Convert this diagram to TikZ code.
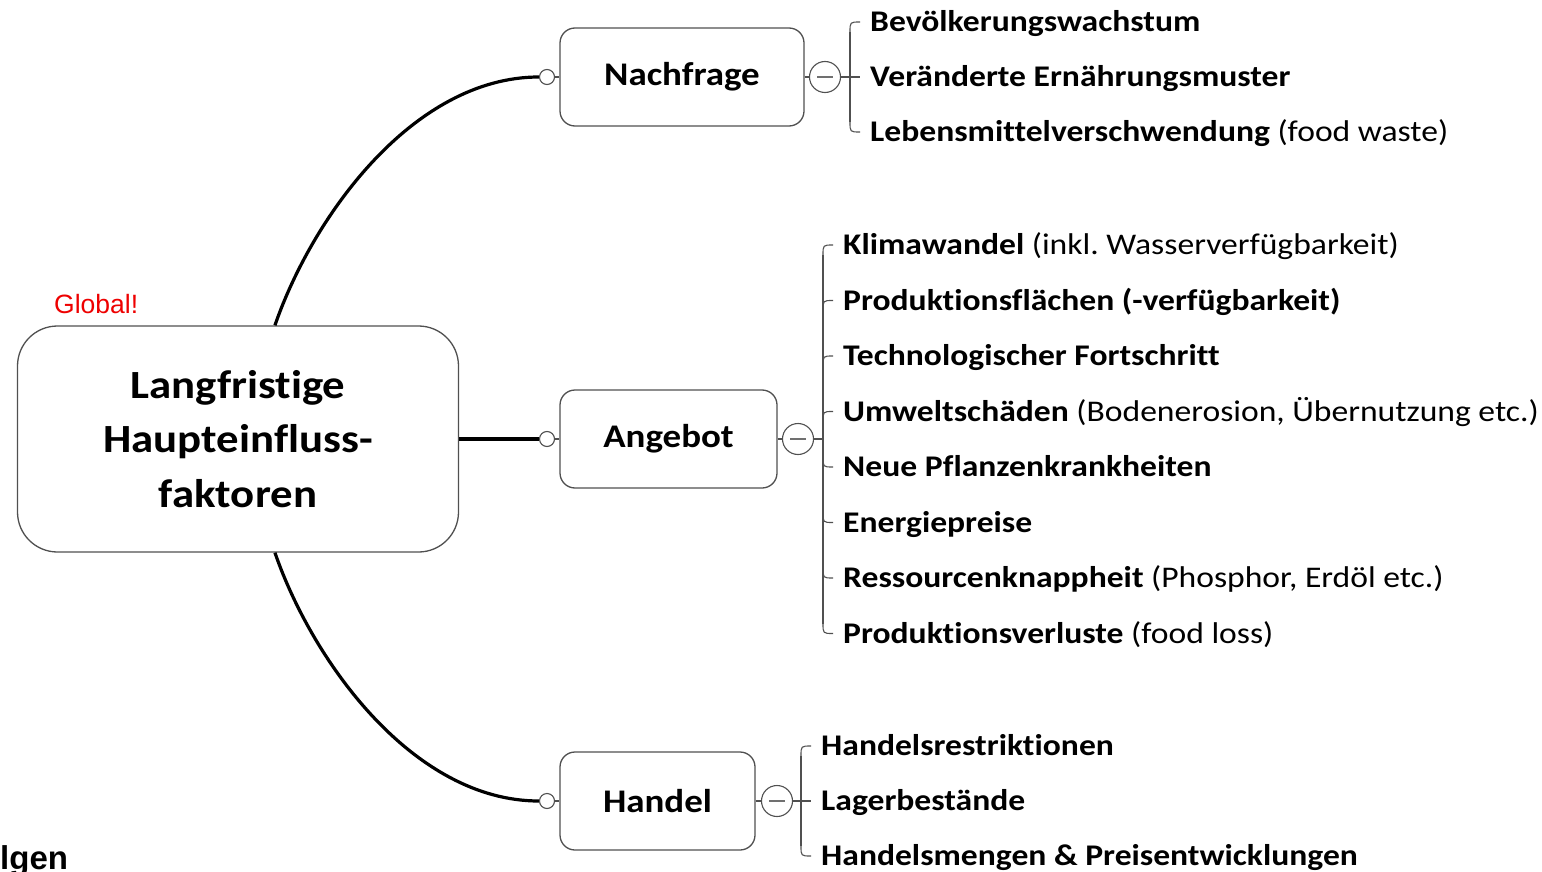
\documentclass[tikz,border=0pt]{standalone}
\usepackage{fontspec}
\setmainfont{Carlito}[FakeStretch=1.12, Ligatures=NoCommon]
\newfontfamily\arialfont{Liberation Sans}
\usetikzlibrary{calc}
\definecolor{framegray}{HTML}{505050}
\definecolor{minusgray}{HTML}{707070}
\definecolor{alertred}{HTML}{EE0000}
\frenchspacing
\begin{document}
\begin{tikzpicture}[x=1pt,y=-1pt,
  mainbox/.style={draw=framegray, line width=1.3pt, fill=white, rounded corners=40pt,
    minimum width=441pt, minimum height=226pt, inner sep=0pt, align=center,
    font=\fontsize{40}{54.5}\selectfont\bfseries},
  branchbox/.style={draw=framegray, line width=1.3pt, fill=white, rounded corners=15pt,
    minimum height=98pt, inner sep=0pt, font=\fontsize{33}{38}\selectfont\bfseries},
  endcircle/.style={circle, draw=framegray, line width=1.1pt, fill=white,
    minimum size=15pt, inner sep=0pt},
  foldcircle/.style={circle, draw=framegray, line width=1.1pt, fill=white,
    minimum size=31pt, inner sep=0pt},
  leaf/.style={anchor=west, inner xsep=10pt, inner ysep=0pt, text height=24pt,
    text depth=5pt, font=\fontsize{30}{36}\selectfont},
  trunk/.style={line width=3.2pt, black},
  thin/.style={line width=1.1pt, framegray},
  bracket/.style={line width=1.1pt, framegray},
]
\clip (0,0) rectangle (1542,872);
\useasboundingbox (0,0) rectangle (1542,872);
\fill[white] (0,0) rectangle (1542,872);

% central topic
\node[mainbox] (main) at (238,439) {Langfristige\\Haupteinfluss-\\faktoren};
\node[anchor=base west, inner sep=0pt, text=alertred, font=\arialfont\fontsize{26.5}{30}\selectfont]
  (global) at (54,313) {Global!};
\node[anchor=base west, inner sep=0pt, font=\arialfont\fontsize{33}{38}\selectfont\bfseries]
  (cut) at (0,869) {lgen};

% main branches
\node[branchbox, minimum width=244pt] (nach) at (682,77) {Nachfrage};
\node[branchbox, minimum width=217pt] (ang) at (668.5,439) {Angebot};
\node[branchbox, minimum width=195pt] (han) at (657.5,801) {Handel};

\node[endcircle] (c1) at (547,77) {};
\node[endcircle] (c2) at (547,439) {};
\node[endcircle] (c3) at (547,801) {};

\node[foldcircle] (m1) at (825,77) {};
\node[foldcircle] (m2) at (798,439) {};
\node[foldcircle] (m3) at (777,801) {};
\foreach \m in {m1,m2,m3}
  \draw[minusgray, line width=1.3pt] ($(\m.center)+(-8,0)$) -- ($(\m.center)+(8,0)$);

% trunk connectors
\draw[trunk] (main.72) .. controls +(38,-110) and +(-125,0) .. (c1.west);
\draw[trunk] (main.east) -- (c2.west);
\draw[trunk] (main.-72) .. controls +(38,110) and +(-125,0) .. (c3.west);

\draw[thin] (c1.east) -- (nach.west);
\draw[thin] (c2.east) -- (ang.west);
\draw[thin] (c3.east) -- (han.west);
\draw[thin] (nach.east) -- (m1.west);
\draw[thin] (ang.east) -- (m2.west);
\draw[thin] (han.east) -- (m3.west);

% Nachfrage
\node[leaf] (n1) at (860,22) {\textbf{Bevölkerungswachstum}};
\node[leaf] (n2) at (860,77) {\textbf{Veränderte Ernährungsmuster}};
\node[leaf] (n3) at (860,132) {\textbf{Lebensmittelverschwendung} (food waste)};

% Angebot
\node[leaf] (a1) at (833,245) {\textbf{Klimawandel} (inkl. Wasserverfügbarkeit)};
\node[leaf] (a2) at (833,300.5) {\textbf{Produktionsflächen (-verfügbarkeit)}};
\node[leaf] (a3) at (833,356) {\textbf{Technologischer Fortschritt}};
\node[leaf] (a4) at (833,411.5) {\textbf{Umweltschäden} (Bodenerosion, Übernutzung etc.)};
\node[leaf] (a5) at (833,467) {\textbf{Neue Pflanzenkrankheiten}};
\node[leaf] (a6) at (833,522.5) {\textbf{Energiepreise}};
\node[leaf] (a7) at (833,578) {\textbf{Ressourcenknappheit} (Phosphor, Erdöl etc.)};
\node[leaf] (a8) at (833,633.5) {\textbf{Produktionsverluste} (food loss)};

% Handel
\node[leaf] (h1) at (811,746) {\textbf{Handelsrestriktionen}};
\node[leaf] (h2) at (811,801) {\textbf{Lagerbestände}};
\node[leaf] (h3) at (811,856) {\textbf{Handelsmengen \& Preisentwicklungen}};

% brackets: spine plus hooks
\draw[bracket] ($(n1.west)+(-10,10)$) -- ($(n3.west)+(-10,-10)$);
\draw[bracket] (m1.east) -- (n2.west);
\foreach \l in {n1}
  \draw[bracket] ($(\l.west)+(-10,10)$) .. controls ($(\l.west)+(-10,0)$) .. (\l.west);
\foreach \l in {n3}
  \draw[bracket] ($(\l.west)+(-10,-10)$) .. controls ($(\l.west)+(-10,0)$) .. (\l.west);

\coordinate (s2) at (823,439);
\draw[bracket] ($(a1.west)+(-10,10)$) -- ($(a8.west)+(-10,-10)$);
\draw[bracket] (m2.east) -- (s2);
\foreach \l in {a1,a2,a3,a4}
  \draw[bracket] ($(\l.west)+(-10,10)$) .. controls ($(\l.west)+(-10,0)$) .. (\l.west);
\foreach \l in {a5,a6,a7,a8}
  \draw[bracket] ($(\l.west)+(-10,-10)$) .. controls ($(\l.west)+(-10,0)$) .. (\l.west);

\draw[bracket] ($(h1.west)+(-10,10)$) -- ($(h3.west)+(-10,-10)$);
\draw[bracket] (m3.east) -- (h2.west);
\foreach \l in {h1}
  \draw[bracket] ($(\l.west)+(-10,10)$) .. controls ($(\l.west)+(-10,0)$) .. (\l.west);
\foreach \l in {h3}
  \draw[bracket] ($(\l.west)+(-10,-10)$) .. controls ($(\l.west)+(-10,0)$) .. (\l.west);
\end{tikzpicture}
\end{document}
